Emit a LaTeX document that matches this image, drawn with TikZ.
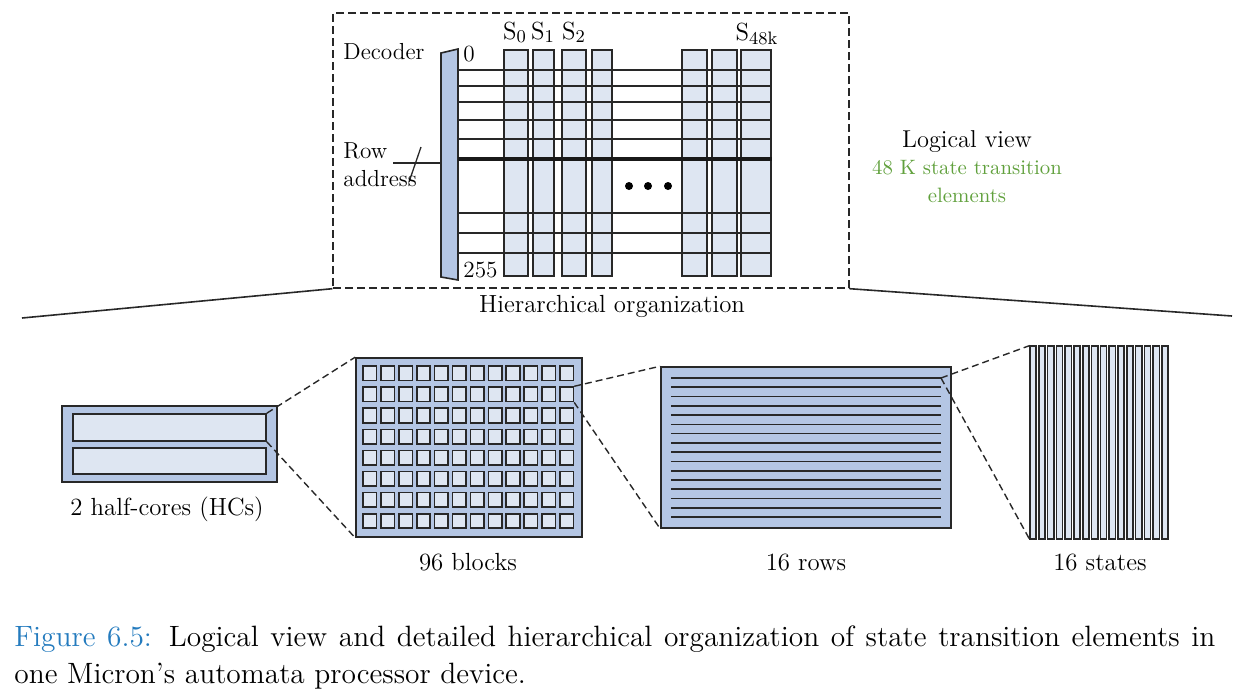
\documentclass[tikz,border=0pt]{standalone}
\usetikzlibrary{fit}
\definecolor{midblue}{RGB}{180,198,228}
\definecolor{lightblue}{RGB}{222,230,242}
\definecolor{edge}{RGB}{40,40,40}
\definecolor{greentxt}{RGB}{96,160,60}
\definecolor{capblue}{RGB}{36,123,190}
\tikzset{
  box/.style={draw=edge, line width=0.8pt, inner sep=0pt},
  dashline/.style={draw=edge, line width=0.7pt, dash pattern=on 3.5pt off 2pt},
  lbl/.style={font=\fontsize{11.6}{13}\selectfont, inner sep=0pt},
  blbl/.style={font=\fontsize{12.4}{14}\selectfont, inner sep=0pt},
  rowline/.style={draw=edge, line width=0.65pt},
}
\begin{document}
\begin{tikzpicture}[x=0.5pt,y=-0.5pt]
\useasboundingbox (0,0) rectangle (1260,697);

% ---------- logical view ----------
\node[fit={(333,13) (849,288)}, inner sep=0pt, draw=edge, line width=0.7pt, dash pattern=on 4pt off 2pt] (frame) {};

% columns
\foreach \n/\a/\b in {1/504/528,2/533/554,3/562/586,4/592/612,5/682/707,6/712/737,7/741/771}
  \node[box, fill=lightblue, fit={(\a,50) (\b,276)}] (col\n) {};

% decoder
\draw[draw=edge, line width=0.8pt, fill=midblue] (441,53) -- (458,49) -- (458,280) -- (441,277) -- cycle;
\coordinate (decW) at (441,163);
\coordinate (raS) at (393,163);
\coordinate (slA) at (421,147);
\coordinate (slB) at (409,182);
\draw[rowline] (raS) -- (decW);
\draw[rowline] (slA) -- (slB);

% row lines
\foreach \y in {70,86,102,120,139,213,233,253}
  \draw[rowline] (458,\y) -- (col7.east |- 0,\y);
\draw[draw=black!90, line width=2.3pt] (458,159) -- (col7.east |- 0,159);

% dots
\foreach \x in {629,648,668} \fill[black] (\x,186) circle[radius=2pt];

% labels
\node[lbl, anchor=base west] (decl) at (343,59) {Decoder};
\node[lbl, anchor=base west] (rowl) at (343,158) {Row};
\node[lbl, anchor=base west] (addl) at (343,186) {address};
\node[lbl, anchor=base west] (zero) at (463,61) {0};
\node[lbl, anchor=base west] (twofive) at (463,277) {255};
\node[blbl, anchor=base] (s0) at (515,39) {S$_0$};
\node[blbl, anchor=base] (s1) at (543,39) {S$_1$};
\node[blbl, anchor=base] (s2) at (574,39) {S$_2$};
\node[blbl, anchor=base] (s48) at (757,40) {S$_{\mathrm{48k}}$};

\node[inner sep=0pt, anchor=base, font=\fontsize{12.2}{14}\selectfont] (lv) at (967,147) {Logical view};
\node[inner sep=0pt, anchor=base, text=greentxt, font=\fontsize{10.4}{12}\selectfont] (g1) at (967,174) {48 K state transition};
\node[inner sep=0pt, anchor=base, text=greentxt, font=\fontsize{10.4}{12}\selectfont] (g2) at (967,202) {elements};

\node[blbl, anchor=base] (hier) at (612,312) {Hierarchical organization};

% big spread lines
\coordinate (bigL) at (22,318);
\coordinate (bigR) at (1232,316);
\draw[draw=edge, line width=0.8pt] (frame.south west) -- (bigL);
\draw[draw=edge, line width=0.8pt] (frame.south east) -- (bigR);

% ---------- half cores ----------
\node[box, fill=midblue, fit={(62,406) (277,482)}] (hc) {};
\node[box, fill=lightblue, fit={(73,414) (266,441)}] (hc1) {};
\node[box, fill=lightblue, fit={(73,448) (266,474)}] (hc2) {};
\node[blbl, anchor=base] (hcl) at (167,515) {2 half-cores (HCs)};

% ---------- blocks ----------
\node[box, fill=midblue, fit={(356,358) (582,537)}] (blk) {};
\foreach \i in {0,...,11}
  \foreach \j in {0,...,7}
    \node[box, fill=lightblue, fit={(363+17.9*\i,366+21.1*\j) (376.5+17.9*\i,380.5+21.1*\j)}] (b-\i-\j) {};
\node[blbl, anchor=base] (blkl) at (468,570) {96 blocks};

% ---------- rows ----------
\node[box, fill=midblue, fit={(661,367) (951,528)}] (rows) {};
\foreach \k in {0,...,15}
  \draw[draw=edge, line width=0.85pt] (671,378+9.27*\k) -- (941,378+9.27*\k);
\coordinate (r0) at (941,378);
\node[blbl, anchor=base] (rowsl) at (806,570) {16 rows};

% ---------- states ----------
\node[fit={(1030,346) (1168,539)}, inner sep=0pt] (st) {};
\foreach \k in {0,...,15}
  \draw[box, fill=lightblue] (1030+8.8*\k,346) rectangle (1036.2+8.8*\k,539);
\node[blbl, anchor=base] (stl) at (1100,570) {16 states};

% ---------- zoom connectors ----------
\draw[dashline] (hc1.north east) -- (blk.north west);
\draw[dashline] (hc1.south east) -- (blk.south west);
\draw[dashline] (b-11-1.north east) -- (rows.north west);
\draw[dashline] (b-11-1.south east) -- (rows.south west);
\draw[dashline] (r0) -- (st.north west);
\draw[dashline] (r0) -- (st.south west);

% ---------- caption ----------
\node[inner sep=0pt, anchor=north west, text width=600.5pt, align=justify,
      font=\fontsize{14.7}{18.5}\selectfont] (cap) at (14,625)
  {\textcolor{capblue}{Figure 6.5:} Logical view and detailed hierarchical organization of state transition elements in\linebreak one Micron's automata processor device.};
\end{tikzpicture}
\end{document}
